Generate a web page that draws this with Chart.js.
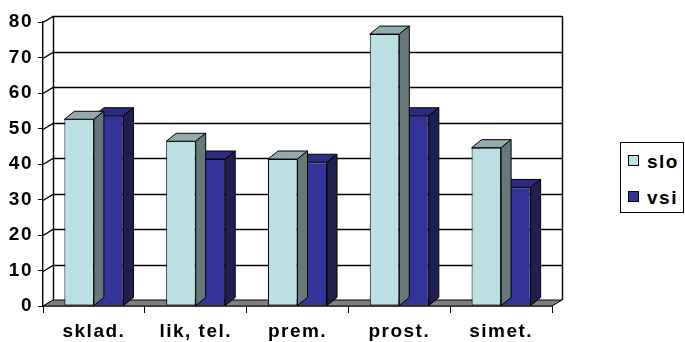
<!DOCTYPE html>
<html>
<head>
<meta charset="utf-8">
<script src="https://cdn.jsdelivr.net/npm/chart.js@4"></script>
<style>
  html, body { margin: 0; padding: 0; background: #fff; }
  #wrap { position: relative; width: 685px; height: 342px; overflow: hidden; }
  #legend {
    position: absolute; left: 620px; top: 142px; width: 62px; height: 69px;
    border: 1px solid #000; background: #fff;
    font: bold 19px "Liberation Sans", Arial, sans-serif; letter-spacing: 1.5px;
  }
  #legend .row { position: absolute; left: 7px; height: 22px; line-height: 22px; white-space: nowrap; }
  #legend .sw { display: inline-block; width: 9px; height: 9px; border: 1px solid #000; vertical-align: middle; margin-right: 8px; position: relative; top: -2px; }
</style>
</head>
<body>
<div id="wrap">
  <canvas id="chart" width="685" height="342"></canvas>
  <div id="legend"></div>
</div>
<script>
(function () {
    "use strict";

    // Data
    var categories = ['sklad.', 'lik, tel.', 'prem.', 'prost.', 'simet.'];
    var sloValues = [52.6, 46.4, 41.4, 76.6, 44.6];
    var vsiValues = [53.6, 41.4, 40.5, 53.6, 33.4];
    var yTicks = [0, 10, 20, 30, 40, 50, 60, 70, 80];

    // Face colours: front / top / side
    var sloColors = ['#bbe0e3', '#93abad', '#65797b'];
    var vsiColors = ['#333399', '#2c2c84', '#1f1f52'];

    // depth offsets for the walls and for the bars
    var WALL_DX = 10, WALL_DY = -6;
    var BAR_DX = 10, BAR_DY = -8;

    function poly(ctx, pts, fill) {
        ctx.beginPath();
        ctx.moveTo(pts[0][0], pts[0][1]);
        for (var i = 1; i < pts.length; i++) ctx.lineTo(pts[i][0], pts[i][1]);
        ctx.closePath();
        if (fill) {
            ctx.fillStyle = fill;
            ctx.fill();
        }
        ctx.stroke();
    }

    var box3d = {
        id: 'box3d',
        beforeDraw: function (chart) {
            chart.ctx.letterSpacing = '1.5px';
        },
        beforeDatasetsDraw: function (chart) {
            var ctx = chart.ctx, a = chart.chartArea, y = chart.scales.y;
            ctx.save();
            ctx.strokeStyle = '#000';
            ctx.lineWidth = 1.4;
            var l = a.left, r = a.right, b = a.bottom, t = a.top;

            // back wall grid and left wall diagonals
            yTicks.forEach(function (v) {
                var py = Math.round(y.getPixelForValue(v)) + 0.5;
                ctx.beginPath();
                ctx.moveTo(l, py);
                ctx.lineTo(l + WALL_DX, py + WALL_DY);
                if (v > 0) ctx.lineTo(r + WALL_DX, py + WALL_DY);
                ctx.stroke();
            });
            // wall edges
            ctx.beginPath();
            ctx.moveTo(l + WALL_DX + 0.5, t + WALL_DY);
            ctx.lineTo(l + WALL_DX + 0.5, b + WALL_DY);
            ctx.moveTo(r + WALL_DX + 0.5, t + WALL_DY);
            ctx.lineTo(r + WALL_DX + 0.5, b + WALL_DY);
            ctx.stroke();

            // floor
            ctx.lineWidth = 1;
            poly(ctx, [[l, b], [r, b], [r + WALL_DX, b + WALL_DY], [l + WALL_DX, b + WALL_DY]], '#808080');
            ctx.restore();
        },
        afterDatasetDraw: function (chart, args) {
            var ctx = chart.ctx;
            var cols = args.index === 0 ? sloColors : vsiColors;
            ctx.save();
            ctx.strokeStyle = '#000';
            ctx.lineWidth = 1;
            args.meta.data.forEach(function (bar) {
                var p = bar.getProps(['x', 'y', 'base', 'width'], true);
                var x0 = p.x - p.width / 2, x1 = p.x + p.width / 2;
                poly(ctx, [[x0, p.y], [x0 + BAR_DX, p.y + BAR_DY], [x1 + BAR_DX, p.y + BAR_DY], [x1, p.y]], cols[1]);
                poly(ctx, [[x1, p.y], [x1 + BAR_DX, p.y + BAR_DY], [x1 + BAR_DX, p.base + BAR_DY], [x1, p.base]], cols[2]);
            });
            ctx.restore();
        }
    };

    var tickFont = { family: '"Liberation Sans", Arial, sans-serif', size: 19, weight: 'bold' };

    var chart = new Chart(document.getElementById('chart').getContext('2d'), {
        type: 'bar',
        data: {
            labels: categories,
            datasets: [{
                label: 'slo',
                data: sloValues,
                backgroundColor: sloColors[0]
            }, {
                label: 'vsi',
                data: vsiValues,
                backgroundColor: vsiColors[0]
            }]
        },
        options: {
            responsive: false,
            animation: false,
            layout: { padding: { top: 22, right: 133, bottom: 0, left: 0 } },
            datasets: {
                bar: {
                    borderColor: '#000',
                    borderWidth: 1,
                    borderSkipped: false,
                    categoryPercentage: 0.58,
                    barPercentage: 1
                }
            },
            plugins: {
                legend: { display: false },
                tooltip: { enabled: false }
            },
            scales: {
                x: {
                    afterFit: function (s) { s.height = 36; },
                    grid: { offset: true, drawOnChartArea: false, tickLength: 7, color: '#000' },
                    border: { color: '#000', width: 1.4 },
                    ticks: { color: '#000', font: tickFont, padding: 7, maxRotation: 0 }
                },
                y: {
                    min: 0,
                    max: 80,
                    afterFit: function (s) { s.width = 43; },
                    grid: { drawOnChartArea: false, tickLength: 5, color: '#000' },
                    border: { color: '#000', width: 1.4 },
                    ticks: { color: '#000', font: tickFont, stepSize: 10, padding: 5 }
                }
            }
        },
        plugins: [box3d]
    });

    // Legend
    var legend = document.getElementById('legend');
    chart.data.datasets.forEach(function (ds, i) {
        var row = document.createElement('div');
        row.className = 'row';
        row.style.top = (8 + i * 36) + 'px';
        row.innerHTML = '<span class="sw" style="background:' + ds.backgroundColor + '"></span>' + ds.label;
        legend.appendChild(row);
    });
})();
</script>
</body>
</html>
